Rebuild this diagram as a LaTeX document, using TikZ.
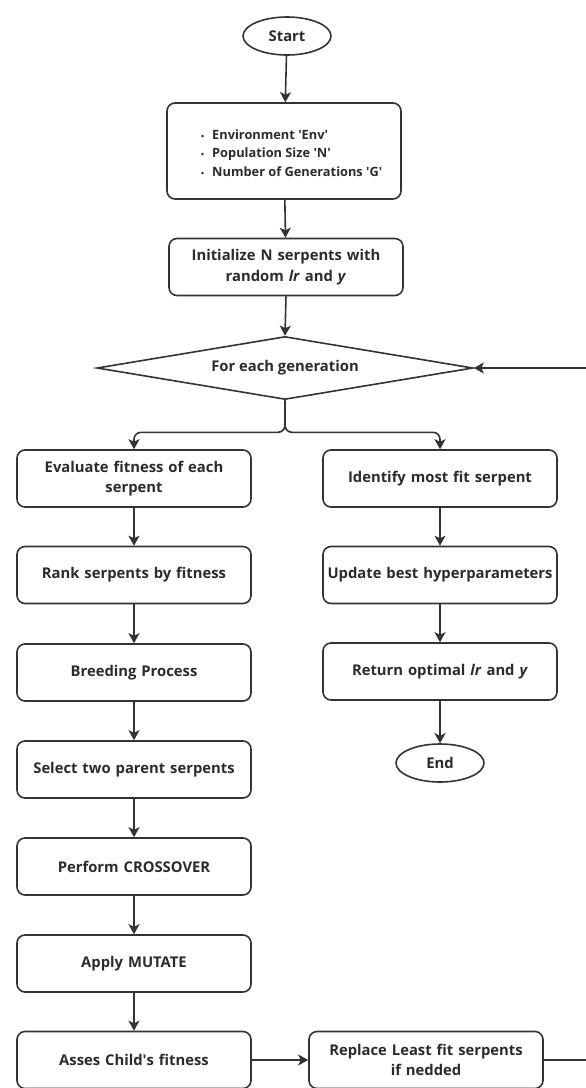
\documentclass[tikz,border=0pt]{standalone}
\usepackage{fontspec}
\setmainfont{Open Sans}
\usetikzlibrary{shapes.geometric,arrows.meta}
\definecolor{ink}{HTML}{333333}
\definecolor{txt}{HTML}{2B2B2B}
\tikzset{
  base/.style={draw=ink, line width=1.6pt, text=txt, inner sep=2pt,
    font=\fontsize{14.8}{20.3}\selectfont\bfseries, align=center},
  procbox/.style={base, rounded corners=8pt, minimum width=234pt, minimum height=57pt, text width=230pt},
  termin/.style={base, ellipse, minimum width=88pt, minimum height=38pt},
  decis/.style={base, diamond, aspect=5.97, minimum width=376pt, minimum height=63pt, inner sep=0pt},
  arr/.style={draw=ink, line width=1.6pt, -{Stealth[length=10pt,width=11pt,inset=2.5pt]}},
  listtext/.style={text=txt, inner sep=0pt, align=left,
    font=\fontsize{12.8}{18.5}\selectfont\bfseries}
}
\newcommand\bul{{\fontsize{8}{8}\selectfont\textbullet}\hspace{8pt}}
\begin{document}
\begin{tikzpicture}[x=1pt,y=-1pt]
\useasboundingbox (0,0) rectangle (586,1088);
\node[termin] (start) at (287,36) {Start};
\node[procbox, minimum width=232pt, minimum height=96pt] (param) at (284,151) {};
\node[listtext, anchor=west] (paramtxt) at (201,153)
  {\bul Environment \textquotesingle Env\textquotesingle\\
   \bul Population Size \textquotesingle N\textquotesingle\\
   \bul Number of Generations \textquotesingle G\textquotesingle};
\node[procbox] (init) at (286,267) {Initialize N serpents with\\random \textit{lr} and \textit{y}};
\node[decis] (gen) at (285,368) {For each generation};
% left column
\node[procbox] (eval) at (134,478.5) {Evaluate fitness of each\\serpent};
\node[procbox] (rank) at (134,575) {Rank serpents by fitness};
\node[procbox] (breed) at (134,672.5) {Breeding Process};
\node[procbox] (sel) at (134,769.5) {Select two parent serpents};
\node[procbox] (cross) at (134,866.5) {Perform CROSSOVER};
\node[procbox] (mut) at (134,963.5) {Apply MUTATE};
\node[procbox] (asses) at (134,1060) {Asses Child\textquotesingle s fitness};
% right column
\node[procbox] (ident) at (440,478.5) {Identify most fit serpent};
\node[procbox] (upd) at (440,575) {Update best hyperparameters};
\node[procbox] (ret) at (440,671.5) {Return optimal \textit{lr} and \textit{y}};
\node[termin] (end) at (440,763) {End};
\node[procbox] (repl) at (426,1060) {Replace Least fit serpents\\if nedded};
% connectors
\draw[arr] (start) -- (param);
\draw[arr] (param) -- (init);
\draw[arr] (init.south) -- (gen.north);
\draw[arr, rounded corners=7pt] (gen.south) -- ++(0,32) -| (eval.north);
\draw[arr, rounded corners=7pt] (gen.south) -- ++(0,32) -| (ident.north);
\draw[arr] (eval) -- (rank);
\draw[arr] (rank) -- (breed);
\draw[arr] (breed) -- (sel);
\draw[arr] (sel) -- (cross);
\draw[arr] (cross) -- (mut);
\draw[arr] (mut) -- (asses);
\draw[arr] (ident) -- (upd);
\draw[arr] (upd) -- (ret);
\draw[arr] (ret) -- (end);
\draw[arr] (asses) -- (repl);
\coordinate (loop) at (600,1060);
\draw[arr] (repl.east) -- (loop) |- (gen.east);
\end{tikzpicture}
\end{document}
